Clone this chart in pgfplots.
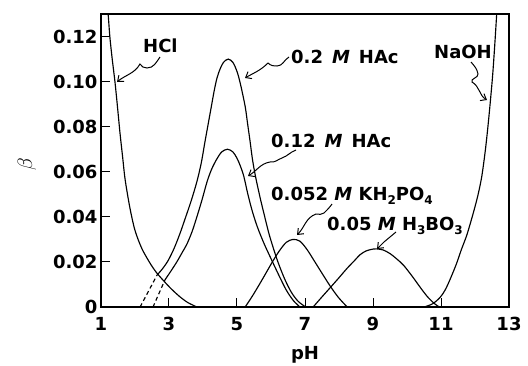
\documentclass[border=0pt]{standalone}
\usepackage{pgfplots}
\pgfplotsset{compat=1.18}
\usepackage{fontspec}
\setmainfont{DejaVu Sans}
\usetikzlibrary{arrows.meta}
\newcommand\sub[1]{\raisebox{-0.25em}{\fontsize{12}{12}\selectfont #1}}
\newcommand\lab{\bfseries\fontsize{18}{20}\selectfont}
\begin{document}
\begin{tikzpicture}
\begin{axis}[name=ax, scale only axis, width=408pt, height=293pt,
  xmin=1, xmax=13, ymin=0, ymax=0.13,
  xtick={1,3,5,7,9,11,13}, xticklabels={1,3,5,7,9,11,13},
  ytick={0,0.02,0.04,0.06,0.08,0.10,0.12},
  yticklabels={0,0.02,0.04,0.06,0.08,0.10,0.12},
  tick align=inside, xtick pos=bottom, ytick pos=left,
  major tick length=9pt,
  tick style={line width=1pt, black},
  axis line style={line width=1.3pt},
  /pgf/number format/assume math mode=true,
  ticklabel style={font=\lab},
  xticklabel style={yshift=-7pt},
  every axis plot/.append style={line width=1.15pt, black, mark=none}]
% HCl
\addplot[smooth] coordinates {(1.15,0.140)(1.21,0.130)(1.26,0.120)(1.33,0.110)(1.41,0.100)(1.49,0.088)(1.56,0.077)(1.64,0.066)(1.71,0.0565)(1.85,0.044)(2.0,0.034)(2.2,0.026)(2.44,0.0195)(2.62,0.0155)(2.82,0.012)(3.05,0.0083)(3.3,0.0048)(3.55,0.002)(3.82,0.0)};
% NaOH
\addplot[smooth] coordinates {(10.5,0)(10.75,0.0014)(10.97,0.0042)(11.12,0.0075)(11.26,0.012)(11.45,0.019)(11.6,0.0255)(11.75,0.0315)(11.88,0.0380)(12.0,0.0445)(12.1,0.0505)(12.2,0.058)(12.3,0.069)(12.38,0.080)(12.45,0.091)(12.52,0.103)(12.58,0.116)(12.63,0.128)(12.68,0.140)};
% 0.2 M HAc
\addplot[dashed, dash pattern=on 4pt off 3pt] coordinates {(2.15,0)(2.65,0.0142)};
\addplot[smooth] coordinates {(2.65,0.0142)(2.8,0.0168)(2.97,0.0205)(3.15,0.026)(3.32,0.0325)(3.47,0.039)(3.65,0.047)(3.82,0.0556)(3.95,0.064)(4.06,0.0735)(4.15,0.081)(4.24,0.0885)(4.33,0.096)(4.41,0.1015)(4.5,0.1055)(4.6,0.1085)(4.74,0.110)(4.88,0.1085)(5.0,0.1045)(5.1,0.099)(5.24,0.089)(5.31,0.0815)(5.38,0.074)(5.46,0.065)(5.55,0.0575)(5.68,0.0485)(5.8,0.041)(5.95,0.032)(6.18,0.021)(6.4,0.0125)(6.6,0.0065)(6.8,0.0025)(7.02,0)};
% 0.12 M HAc
\addplot[dashed, dash pattern=on 4pt off 3pt] coordinates {(2.53,0)(2.88,0.012)};
\addplot[smooth] coordinates {(2.88,0.012)(3.05,0.0158)(3.23,0.020)(3.4,0.0245)(3.53,0.028)(3.68,0.0335)(3.82,0.040)(3.97,0.0475)(4.12,0.0556)(4.25,0.061)(4.4,0.0655)(4.55,0.0688)(4.72,0.070)(4.88,0.0688)(5.0,0.066)(5.1,0.0625)(5.2,0.058)(5.32,0.050)(5.45,0.0425)(5.6,0.0355)(5.8,0.028)(6.03,0.0205)(6.25,0.0135)(6.45,0.0075)(6.65,0.003)(6.85,0)};
% KH2PO4
\addplot[smooth] coordinates {(5.24,0)(5.45,0.0048)(5.65,0.0098)(5.85,0.015)(6.06,0.0205)(6.25,0.025)(6.45,0.0287)(6.65,0.030)(6.85,0.0292)(7.06,0.0255)(7.3,0.0198)(7.52,0.0145)(7.74,0.0093)(7.98,0.0043)(8.24,0)};
% H3BO3
\addplot[smooth] coordinates {(7.24,0)(7.5,0.0045)(7.76,0.0089)(8.0,0.013)(8.24,0.0172)(8.45,0.0205)(8.62,0.0232)(8.8,0.0249)(9.0,0.0257)(9.1,0.0258)(9.3,0.0253)(9.5,0.0237)(9.7,0.0213)(9.9,0.0185)(10.15,0.0137)(10.4,0.0085)(10.6,0.0046)(10.8,0.0016)(10.95,0)};
\end{axis}
\coordinate (O) at ([xshift=-101pt,yshift=307pt]ax.south west);
\begin{scope}[shift={(O)}, x=1pt, y=-1pt,
  arr/.style={line width=1pt, -{Straight Barb[length=5pt,width=8pt]}}]
\node[anchor=base west, inner sep=0, font=\lab] at (143,52) {HCl};
\node[anchor=base west, inner sep=0, font=\lab] at (291,63) {0.2\enspace\textit{M}\enspace HAc};
\node[anchor=base west, inner sep=0, font=\lab] at (434,58) {NaOH};
\node[anchor=base west, inner sep=0, font=\lab] at (271,147) {0.12\enspace\textit{M}\enspace HAc};
\node[anchor=base west, inner sep=0, font=\lab] at (271,200) {0.052 \textit{M} KH\sub{2}PO\sub{4}};
\node[anchor=base west, inner sep=0, font=\lab] at (327,230) {0.05 \textit{M} H\sub{3}BO\sub{3}};
\node[anchor=base, inner sep=0, font=\lab] at (305,359) {pH};
\node[rotate=90, inner sep=0, font=\fontsize{20}{20}\selectfont] at (27,164) {$\beta$};
\draw[arr] (160,57) to[out=235,in=0] (147,68) to[out=180,in=-60] (140,64) to[out=240,in=40] (117,82);
\draw[arr] (289,57) to[out=210,in=0] (277,66) to[out=180,in=-45] (268,63) to[out=225,in=30] (245,78);
\draw[arr] (471,62) to[out=-50,in=100] (478,74) to[out=-80,in=120] (472,82) to[out=-30,in=150] (487,100);
\draw[arr] (296,150) to[out=200,in=20] (282,158) to[out=200,in=-10] (270,162) to[out=190,in=30] (248,176);
\draw[arr] (332,204) to[out=235,in=45] (324,213) to[out=225,in=0] (316,214) to[out=200,in=45] (297,235);
\draw[arr] (396,232) to[out=220,in=40] (384,242) -- (377,249);
\end{scope}
\pgfresetboundingbox
\path[shift={(O)}, x=1pt, y=-1pt] (0,0) rectangle (528,365);
\end{tikzpicture}
\end{document}
